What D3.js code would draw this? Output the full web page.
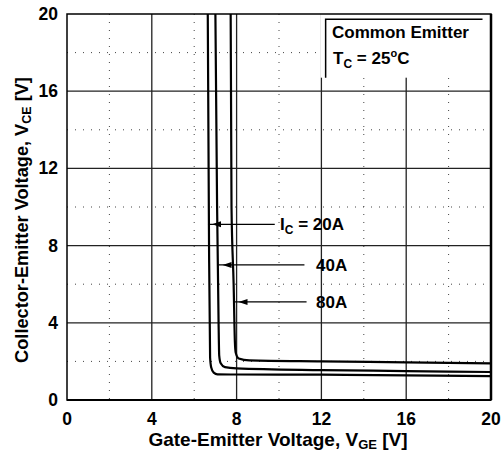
<!DOCTYPE html>
<html>
<head>
<meta charset="utf-8">
<script src="https://cdn.jsdelivr.net/npm/d3@7"></script>
<style>
  body { margin: 0; background: #fff; }
  svg { display: block; font-family: "Liberation Sans", Arial, sans-serif; font-weight: bold; }
</style>
</head>
<body>
<div id="chart"></div>
<script>
// axis ticks
const xTicks = [0, 4, 8, 12, 16, 20];
const yTicks = [0, 4, 8, 12, 16, 20];
const minorTicks = [2, 6, 10, 14, 18];

// curves: VGE [V], VCE [V]
const vge20A = [6.64, 6.70, 6.75, 6.80, 6.92, 7.10, 8, 12, 16, 20];
const vce20A = [20, 8, 2.2, 1.7, 1.42, 1.33, 1.32, 1.31, 1.28, 1.24];
const vge40A = [7.00, 7.08, 7.15, 7.18, 7.25, 7.45, 8, 12, 16, 20];
const vce40A = [20, 10, 4, 2.3, 1.9, 1.7, 1.64, 1.55, 1.5, 1.45];
const vge80A = [7.72, 7.76, 7.86, 7.92, 7.96, 8.10, 8.6, 12, 16, 20];
const vce80A = [20, 10, 6, 3, 2.45, 2.15, 2.05, 2.0, 1.95, 1.9];

// labels: arrow at VCE, from curve VGE to text VGE
const labelNames = ["20A", "40A", "80A"];
const labelVce = [9.1, 7.0, 5.08];
const labelTipVge = [6.65, 7.15, 7.9];
const labelEndVge = [9.8, 11.2, 11.3];
const labelTextVge = [10.05, 11.75, 11.75];

const width = 501, height = 453;
const margin = { left: 67, right: 10, top: 14, bottom: 53 };

const x = d3.scaleLinear().domain([0, 20]).range([margin.left, width - margin.right]);
const y = d3.scaleLinear().domain([0, 20]).range([height - margin.bottom, margin.top]);

const svg = d3.select("#chart").append("svg")
  .attr("width", width)
  .attr("height", height);

// dotted minor grid
svg.append("g")
  .selectAll("line")
  .data(minorTicks)
  .join("line")
    .attr("x1", d => x(d)).attr("x2", d => x(d))
    .attr("y1", y(20)).attr("y2", y(0))
    .attr("stroke", "#444")
    .attr("stroke-width", 1)
    .attr("stroke-dasharray", "1,7");
svg.append("g")
  .selectAll("line")
  .data(minorTicks)
  .join("line")
    .attr("x1", x(0)).attr("x2", x(20))
    .attr("y1", d => y(d)).attr("y2", d => y(d))
    .attr("stroke", "#444")
    .attr("stroke-width", 1)
    .attr("stroke-dasharray", "1,7");

// major grid
svg.append("g")
  .selectAll("line")
  .data(xTicks.slice(1, -1))
  .join("line")
    .attr("x1", d => x(d)).attr("x2", d => x(d))
    .attr("y1", y(20)).attr("y2", y(0))
    .attr("stroke", "#222")
    .attr("stroke-width", 1.3);
svg.append("g")
  .selectAll("line")
  .data(yTicks.slice(1, -1))
  .join("line")
    .attr("x1", x(0)).attr("x2", x(20))
    .attr("y1", d => y(d)).attr("y2", d => y(d))
    .attr("stroke", "#222")
    .attr("stroke-width", 1.3);

// legend box (covers grid)
const lg = svg.append("g");
lg.append("rect")
  .attr("x", x(11.95)).attr("y", y(20))
  .attr("width", x(20) - x(11.95)).attr("height", y(16.7) - y(20))
  .attr("fill", "#fff");
lg.append("path")
  .attr("d", `M${x(12.2)},${y(16.7)}V${y(19.73)}H${x(19.6)}`)
  .attr("fill", "none")
  .attr("stroke", "#000")
  .attr("stroke-width", 1.5);
lg.append("text")
  .attr("x", x(12.5)).attr("y", y(18.75))
  .attr("font-size", 17)
  .text("Common Emitter");
const tc = lg.append("text")
  .attr("x", x(12.55)).attr("y", y(17.4))
  .attr("font-size", 17);
tc.append("tspan").text("T");
tc.append("tspan").attr("font-size", 12).attr("dy", 4).text("C");
tc.append("tspan").attr("dy", -4).text(" = 25");
tc.append("tspan").attr("font-size", 11).attr("dy", -7).text("o");
tc.append("tspan").attr("dy", 7).text("C");

// plot border
svg.append("rect")
  .attr("x", x(0)).attr("y", y(20))
  .attr("width", x(20) - x(0)).attr("height", y(0) - y(20))
  .attr("fill", "none")
  .attr("stroke", "#000")
  .attr("stroke-width", 1.5);
svg.append("line")
  .attr("x1", x(20)).attr("x2", x(20))
  .attr("y1", y(20)).attr("y2", y(0))
  .attr("stroke", "#000").attr("stroke-width", 2.5);
svg.append("line")
  .attr("x1", x(0)).attr("x2", x(20))
  .attr("y1", y(0)).attr("y2", y(0))
  .attr("stroke", "#000").attr("stroke-width", 2);

// curves
const curves = [
  d3.zip(vge20A, vce20A),
  d3.zip(vge40A, vce40A),
  d3.zip(vge80A, vce80A)
];
const line = d3.line()
  .x(d => x(d[0]))
  .y(d => y(d[1]))
  .curve(d3.curveMonotoneX);
svg.append("g")
  .selectAll("path")
  .data(curves)
  .join("path")
    .attr("d", line)
    .attr("fill", "none")
    .attr("stroke", "#000")
    .attr("stroke-width", 2.2);

// arrows + labels
labelNames.forEach((name, i) => {
  const yy = y(labelVce[i]);
  const x0 = x(labelTipVge[i]);
  const x1 = x(labelEndVge[i]);
  svg.append("line")
    .attr("x1", x0).attr("x2", x1)
    .attr("y1", yy).attr("y2", yy)
    .attr("stroke", "#000").attr("stroke-width", 1.2);
  const tip = x0 + 4;
  svg.append("path")
    .attr("d", `M${tip},${yy}L${tip + 9},${yy - 3}L${tip + 9},${yy + 3}Z`)
    .attr("fill", "#000");
  const t = svg.append("text")
    .attr("x", x(labelTextVge[i])).attr("y", yy + 6)
    .attr("font-size", 17);
  if (i === 0) {
    t.append("tspan").text("I");
    t.append("tspan").attr("font-size", 12).attr("dy", 4).text("C");
    t.append("tspan").attr("dy", -4).text(" = " + name);
  } else {
    t.text(name);
  }
});

// tick labels
svg.append("g")
  .selectAll("text")
  .data(xTicks)
  .join("text")
    .attr("x", d => x(d)).attr("y", y(0) + 25)
    .attr("text-anchor", "middle")
    .attr("font-size", 17.5)
    .text(d => d);
svg.append("g")
  .selectAll("text")
  .data(yTicks)
  .join("text")
    .attr("x", x(0) - 9).attr("y", d => y(d) + 6)
    .attr("text-anchor", "end")
    .attr("font-size", 17.5)
    .text(d => d);

// axis titles
const xt = svg.append("text")
  .attr("x", (x(0) + x(20)) / 2 - 1).attr("y", height - 7)
  .attr("text-anchor", "middle")
  .attr("font-size", 19);
xt.append("tspan").text("Gate-Emitter Voltage, V");
xt.append("tspan").attr("font-size", 13).attr("dy", 3).text("GE");
xt.append("tspan").attr("dy", -3).text(" [V]");

const yt = svg.append("text")
  .attr("transform", `translate(28,${(y(0) + y(20)) / 2 + 13}) rotate(-90)`)
  .attr("text-anchor", "middle")
  .attr("font-size", 18.2);
yt.append("tspan").text("Collector-Emitter Voltage, V");
yt.append("tspan").attr("font-size", 12.5).attr("dy", 3).text("CE");
yt.append("tspan").attr("dy", -3).text(" [V]");
</script>
</body>
</html>
